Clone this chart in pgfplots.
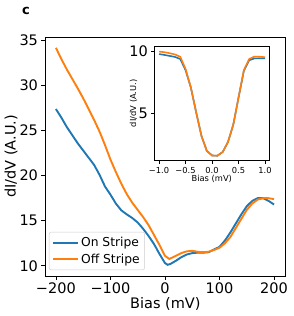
\documentclass[border=0pt]{standalone}
\usepackage{fontspec}
\setmainfont{DejaVu Sans}
\usepackage{pgfplots}
\pgfplotsset{compat=1.18}
\definecolor{tabblue}{HTML}{1F77B4}
\definecolor{taborange}{HTML}{FF7F0E}
\pgfplotstableread{
x y
-200 27.4
-190 26.45
-180 25.4
-170 24.5
-160 23.6
-150 22.8
-140 22.0
-130 21.2
-120 20.1
-110 18.8
-100 17.9
-90 16.9
-80 16.15
-70 15.7
-60 15.3
-50 14.8
-40 14.1
-30 13.3
-20 12.4
-10 11.3
0 10.3
5 10.1
10 10.2
20 10.55
30 10.95
40 11.25
50 11.4
60 11.45
70 11.45
80 11.5
90 11.8
100 12.1
110 12.8
120 13.7
130 14.7
140 15.7
150 16.6
160 17.2
170 17.5
180 17.5
190 17.2
200 16.8
}\onmain
\pgfplotstableread{
x y
-200 34.2
-190 32.95
-180 31.8
-170 30.75
-160 29.7
-150 28.6
-140 27.4
-130 26.2
-120 24.9
-110 23.4
-100 21.8
-90 20.4
-80 19.1
-70 17.95
-60 17.0
-50 16.2
-40 15.4
-30 14.5
-20 13.4
-10 12.3
0 11.1
8 10.75
20 11.1
30 11.4
40 11.6
50 11.65
60 11.55
70 11.5
80 11.55
90 11.75
100 12.0
110 12.5
120 13.2
130 14.2
140 15.2
150 16.2
160 16.9
170 17.35
180 17.5
190 17.5
200 17.4
}\offmain
\pgfplotstableread{
x y
-1.0 9.8
-0.9 9.73
-0.8 9.65
-0.7 9.57
-0.6 9.4
-0.5 8.5
-0.4 7.1
-0.3 5.1
-0.2 3.2
-0.1 2.0
0.0 1.62
0.1 1.6
0.2 1.9
0.3 2.7
0.4 4.1
0.5 6.3
0.6 8.45
0.7 9.3
0.8 9.45
0.9 9.45
1.0 9.45
}\oninset
\pgfplotstableread{
x y
-1.0 10.0
-0.9 9.95
-0.8 9.87
-0.7 9.77
-0.6 9.58
-0.5 8.6
-0.4 7.1
-0.3 5.1
-0.2 3.2
-0.1 2.0
0.0 1.62
0.1 1.6
0.2 1.9
0.3 2.7
0.4 4.1
0.5 6.3
0.6 8.5
0.7 9.4
0.8 9.6
0.9 9.58
1.0 9.55
}\offinset
\begin{document}
\begin{tikzpicture}[x=1pt,y=1pt]
\path[use as bounding box] (0,0) rectangle (293,316);
\node[font=\fontsize{13}{15}\selectfont\bfseries] at (26,305) {c};
\begin{axis}[
  at={(45pt,40pt)}, anchor=south west,
  scale only axis, width=240.7pt, height=239pt,
  xmin=-220, xmax=221.4, ymin=8.86, ymax=35.4,
  axis line style={black, line width=0.8pt},
  tick pos=left, tick align=outside, major tick length=3.5pt,
  tick style={black, line width=0.8pt},
  xtick={-200,-100,0,100,200},
  xticklabels={−200,−100,0,100,200},
  ytick={10,15,20,25,30,35},
  yticklabels={10,15,20,25,30,35},
  ticklabel style={font=\fontsize{14.5}{16}\selectfont},
  xlabel={Bias (mV)}, ylabel={dI/dV (A.U.)},
  label style={font=\fontsize{14.5}{16}\selectfont},
  xlabel style={at={(axis description cs:0.5,-0.118)}, anchor=center},
  ylabel style={at={(axis description cs:-0.1413,0.5)}, anchor=center},
  legend style={at={(0.0166,0.025)}, anchor=south west, draw=black!20, rounded corners=2pt,
    font=\fontsize{12.3}{14}\selectfont, row sep=2pt, inner xsep=3pt, inner ysep=3pt},
  legend cell align=left,
  legend image code/.code={\draw[mark repeat=2,mark phase=2,#1] plot coordinates {(0pt,0pt) (12.5pt,0pt) (25pt,0pt)};},
]
\addplot[color=tabblue, line width=1.9pt] table[x=x,y=y] {\onmain};
\addlegendentry{On Stripe}
\addplot[color=taborange, line width=1.9pt] table[x=x,y=y] {\offmain};
\addlegendentry{Off Stripe}
\end{axis}
\begin{axis}[
  at={(154.3pt,155.3pt)}, anchor=south west,
  scale only axis, width=115pt, height=114.7pt,
  xmin=-1.09, xmax=1.08, ymin=1.2, ymax=10.45,
  axis background/.style={fill=white},
  axis line style={black, line width=0.8pt},
  tick pos=left, tick align=outside, major tick length=3pt,
  tick style={black, line width=0.8pt},
  xtick={-1,-0.5,0,0.5,1},
  xticklabels={−1.0,−0.5,0.0,0.5,1.0},
  ytick={5,10}, yticklabels={5,10},
  xticklabel style={font=\fontsize{8.3}{9}\selectfont},
  yticklabel style={font=\fontsize{14.5}{16}\selectfont},
  xlabel={Bias (mV)}, ylabel={dI/dV (A.U.)},
  label style={font=\fontsize{8.3}{9}\selectfont},
  xlabel style={at={(axis description cs:0.5,-0.1622)}, anchor=center},
  ylabel style={at={(axis description cs:-0.1809,0.5)}, anchor=center},
]
\addplot[color=tabblue, line width=1.6pt] table[x=x,y=y] {\oninset};
\addplot[color=taborange, line width=1.6pt] table[x=x,y=y] {\offinset};
\end{axis}
\end{tikzpicture}
\end{document}
